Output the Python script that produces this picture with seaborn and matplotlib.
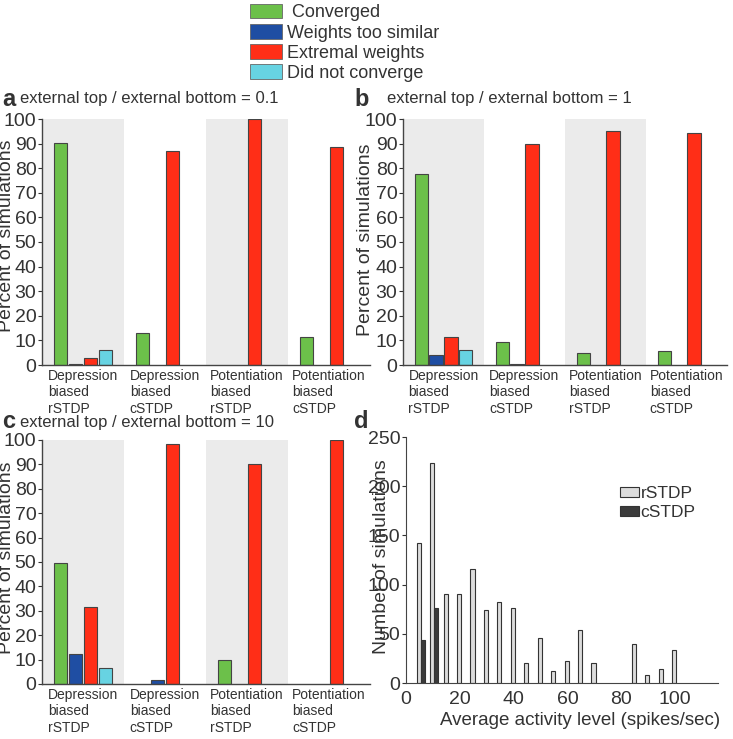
import pandas as pd
import matplotlib
matplotlib.use("Agg")
import matplotlib.pyplot as plt
import seaborn as sns
from matplotlib.patches import Patch

# data
groups = ["Depression\nbiased\nrSTDP", "Depression\nbiased\ncSTDP",
          "Potentiation\nbiased\nrSTDP", "Potentiation\nbiased\ncSTDP"]
outcomes = ["Converged", "Weights too similar", "Extremal weights", "Did not converge"]

# percent per group, in outcome order
ratio_01 = [[90.3, 0.6, 2.9, 6.0],
            [13.0, 0.0, 87.0, 0.0],
            [0.0, 0.0, 100.0, 0.0],
            [11.5, 0.0, 88.5, 0.0]]
ratio_1 = [[77.7, 4.2, 11.3, 5.9],
           [9.5, 0.4, 90.0, 0.0],
           [5.0, 0.0, 95.0, 0.0],
           [5.6, 0.0, 94.4, 0.0]]
ratio_10 = [[49.5, 12.3, 31.5, 6.5],
            [0.0, 1.6, 98.4, 0.0],
            [10.0, 0.0, 90.0, 0.0],
            [0.0, 0.0, 100.0, 0.0]]

activity = [5, 10, 15, 20, 25, 30, 35, 40, 45, 50, 55, 60, 65, 70, 85, 90, 95, 100]
r_counts = [142, 224, 90, 90, 116, 74, 82, 76, 20, 46, 12, 22, 54, 20, 40, 8, 14, 34]
c_activity = [5, 10]
c_counts = [44, 76]

colors = ["#6cc04a", "#1f4ea3", "#ff2e17", "#67d3e2"]
txt = "#333333"

plt.rcParams["font.family"] = ["Liberation Sans", "DejaVu Sans"]
plt.rcParams["text.color"] = txt
plt.rcParams["axes.labelcolor"] = txt
plt.rcParams["xtick.color"] = txt
plt.rcParams["ytick.color"] = txt

fig = plt.figure(figsize=(7.33, 7.39), dpi=100)
W, H = 733, 739


def px_axes(left, top, right, bottom):
    return fig.add_axes([left / W, 1 - bottom / H, (right - left) / W, (bottom - top) / H])


def outcome_panel(ax, vals):
    rows = []
    for g, v in zip(groups, vals):
        for o, p in zip(outcomes, v):
            if p > 0:
                rows.append({"group": g, "outcome": o, "pct": p})
    df = pd.DataFrame(rows)
    for k in (0, 2):
        ax.axvspan(k - 0.5, k + 0.5, color="#ebebeb", zorder=0, lw=0)
    sns.barplot(data=df, x="group", y="pct", hue="outcome", order=groups,
                hue_order=outcomes, palette=colors, saturation=1, width=0.74, gap=0.13,
                edgecolor="#444444", linewidth=0.8, legend=False, ax=ax, zorder=2)
    ax.set_xlim(-0.5, 3.5)
    ax.set_ylim(0, 100)
    ax.set_yticks(range(0, 101, 10))
    ax.set_xlabel("")
    ax.set_ylabel("")
    ax.tick_params(axis="y", labelsize=14, length=3, width=0.8, pad=1)
    ax.tick_params(axis="x", labelsize=10, length=0, pad=3)
    plt.setp(ax.get_xticklabels(), multialignment="left", linespacing=1.2)
    for s in ("top", "right"):
        ax.spines[s].set_visible(False)
    for s in ("left", "bottom"):
        ax.spines[s].set_color("#444444")
        ax.spines[s].set_linewidth(1.0)
    ax.set_facecolor("white")


ax_a = px_axes(42, 119, 370, 365)
outcome_panel(ax_a, ratio_01)
ax_b = px_axes(403, 119, 727, 365)
outcome_panel(ax_b, ratio_1)
ax_c = px_axes(42, 440, 370, 684)
outcome_panel(ax_c, ratio_10)

# histogram panel
ax_d = px_axes(406, 437, 718, 683)
hist = pd.concat([
    pd.DataFrame({"rate": [a + 0.5 for a in activity], "n": r_counts, "rule": "rSTDP"}),
    pd.DataFrame({"rate": [a + 0.5 for a in c_activity], "n": c_counts, "rule": "cSTDP"}),
])
sns.barplot(data=hist, x="rate", y="n", hue="rule", hue_order=["rSTDP", "cSTDP"],
            palette=["#dcdcdc", "#3b3b3b"], saturation=1, native_scale=True, width=0.62,
            edgecolor="#333333", linewidth=0.8, ax=ax_d)
ax_d.set_xlim(0, 116)
ax_d.set_ylim(0, 250)
ax_d.set_xticks(range(0, 101, 20))
ax_d.set_xticklabels([str(v) for v in range(0, 101, 20)])
ax_d.set_yticks(range(0, 251, 50))
ax_d.set_xlabel("Average activity level (spikes/sec)", fontsize=13.5)
ax_d.xaxis.set_label_coords((580 - 406) / 312, -(712 - 683) / 246)
ax_d.set_ylabel("")
ax_d.tick_params(axis="x", labelsize=14, length=0, pad=6)
ax_d.tick_params(axis="y", labelsize=14, length=3, width=0.8, pad=1)
for s in ("top", "right"):
    ax_d.spines[s].set_visible(False)
for s in ("left", "bottom"):
    ax_d.spines[s].set_color("#444444")
ax_d.legend(loc="upper left", bbox_to_anchor=(0.665, 0.83), frameon=False,
            fontsize=12.5, handlelength=1.05, handleheight=0.5, handletextpad=0.1,
            labelspacing=0.25, borderaxespad=0)

# titles, panel letters and y labels
for x, y, letter in [(2, 99, "a"), (354, 99, "b"), (2, 421, "c"), (354, 421, "d")]:
    fig.text(x / W, 1 - y / H, letter, fontsize=17, fontweight="bold", va="center")
for x, y, s in [(20, 99, "external top / external bottom = 0.1"),
                (387, 99, "external top / external bottom = 1"),
                (20, 423, "external top / external bottom = 10")]:
    fig.text(x / W, 1 - y / H, s, fontsize=12, va="center")
for x, y, s in [(7, 236, "Percent of simulations"), (366, 240, "Percent of simulations"),
                (7, 558, "Percent of simulations"), (381, 557, "Number of simulations")]:
    fig.text(x / W, 1 - y / H, s, fontsize=14, rotation=90, ha="center", va="center")

handles = [Patch(facecolor=c, edgecolor="#666666", linewidth=0.6) for c in colors]
fig.legend(handles, [" Converged", "Weights too similar", "Extremal weights", "Did not converge"],
           loc="upper left", bbox_to_anchor=(250 / W, 1 - 4 / H), frameon=False,
           fontsize=13, handlelength=1.75, handleheight=0.85, handletextpad=0.3,
           labelspacing=0.15, borderaxespad=0, borderpad=0)

fig.savefig("out.png", dpi=100)
